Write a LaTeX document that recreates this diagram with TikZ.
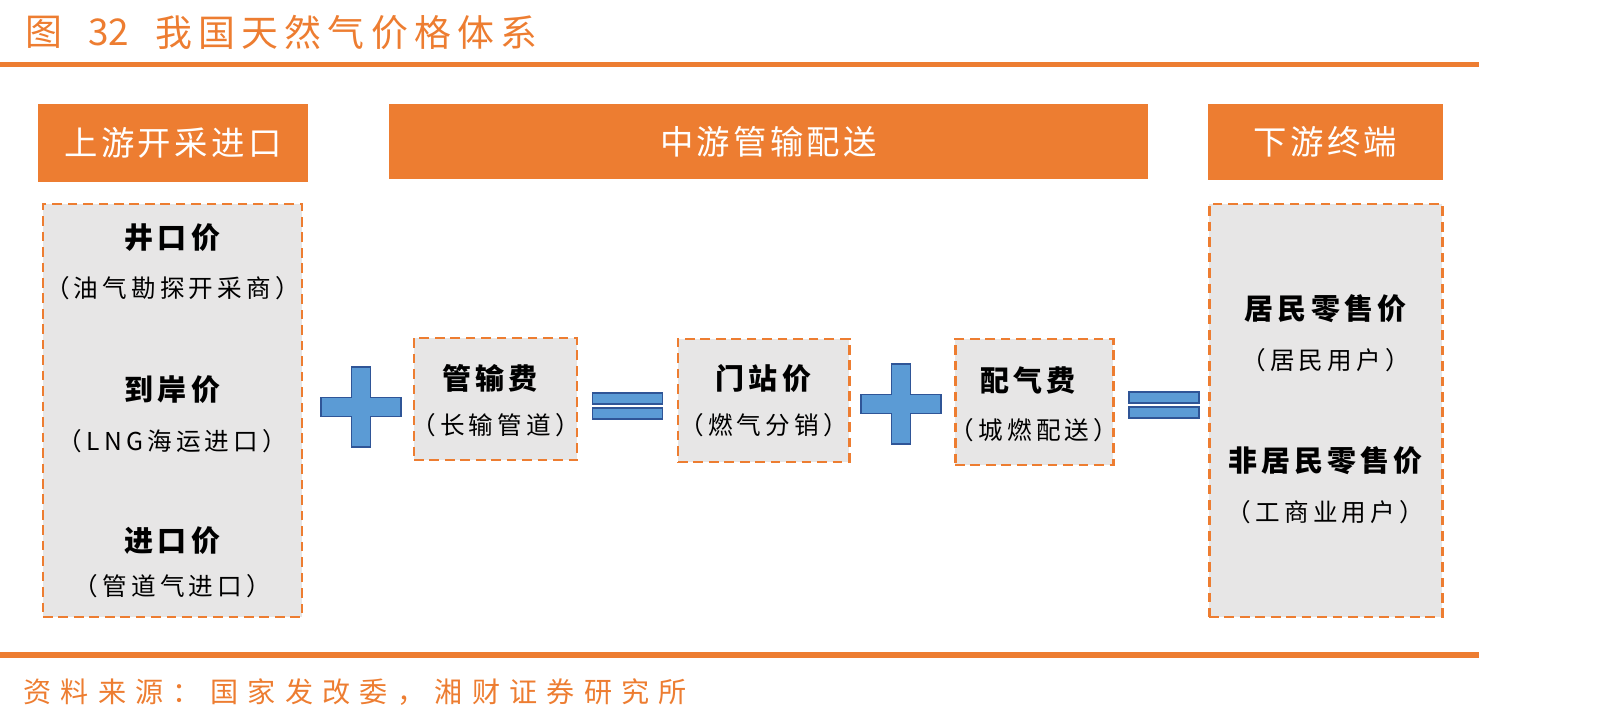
\documentclass[tikz,border=0pt]{standalone}
\usepackage{fontspec}
\setmainfont{Noto Sans CJK SC}
\newfontfamily\titlefont[LetterSpace=17]{Noto Sans CJK SC}
\newfontfamily\sourcefont[LetterSpace=33]{Noto Sans CJK SC}
\newfontfamily\headfont[LetterSpace=10]{Noto Sans CJK SC}
\newfontfamily\labelfont[LetterSpace=14]{Noto Sans CJK SC}
\newfontfamily\smallfont[LetterSpace=17]{Noto Sans CJK SC}
\usetikzlibrary{fit}
\definecolor{hdorange}{HTML}{ED7D31}
\definecolor{boxgray}{HTML}{E7E6E6}
\definecolor{signblue}{HTML}{5B9BD5}
\definecolor{signedge}{HTML}{2F5597}
\tikzset{
    headbox/.style={fill=hdorange, draw=none, inner sep=0pt},
    dashbox/.style={fill=boxgray, draw=hdorange, line width=1.7pt, dash pattern=on 5.5pt off 3.3pt, inner sep=0pt},
    titletext/.style={anchor=west, text=hdorange, inner sep=0pt, font=\titlefont\fontsize{21}{25}\selectfont},
    headtext/.style={text=white, font=\headfont\fontsize{19}{22}\selectfont},
    pricetext/.style={font=\labelfont\fontsize{16.5}{20}\selectfont\bfseries},
    subtext/.style={font=\smallfont\fontsize{14}{17}\selectfont},
    signshape/.style={fill=signblue, draw=signedge, line width=1pt},
    plussign/.pic={
            \draw[signshape] (-40,-9.5) -- (-9.5,-9.5) -- (-9.5,-40) -- (9.5,-40) -- (9.5,-9.5) -- (40,-9.5)
            -- (40,9.5) -- (9.5,9.5) -- (9.5,40) -- (-9.5,40) -- (-9.5,9.5) -- (-40,9.5) -- cycle;
        },
    equalsign/.pic={
            \draw[signshape] (-35,-13) rectangle (35,-2);
            \draw[signshape] (-35,2) rectangle (35,13);
        },
}

\begin{document}
\begin{tikzpicture}[x=0.02cm, y=-0.02cm]
        \useasboundingbox (0,0) rectangle (1624,723);
        %title and rules
        \node[titletext] (fig) at (25,32) {图};
        \node[titletext, font=\fontsize{21}{25}\selectfont] (fignum) at (88,32) {32};
        \node[titletext] (title) at (155,32) {我国天然气价格体系};
        \fill[hdorange] (0,62) rectangle (1479,67);
        \fill[hdorange] (0,652) rectangle (1479,658);
        \node[anchor=west, inner sep=0pt, text=hdorange, font=\sourcefont\fontsize{16}{19}\selectfont] (source) at (23,692) {资料来源：国家发改委，湘财证券研究所};
        %header bars
        \node[headbox, fit={(38,104) (308,182)}] (uphead) {};
        \node[headbox, fit={(389,104) (1148,179)}] (midhead) {};
        \node[headbox, fit={(1208,104) (1443,180)}] (downhead) {};
        \node[headtext] at (uphead.center) {上游开采进口};
        \node[headtext] at (midhead.center) {中游管输配送};
        \node[headtext] at (downhead.center) {下游终端};
        %dashed boxes
        \node[dashbox, fit={(43,204) (302,617)}] (upbox) {};
        \node[dashbox, fit={(414,338) (577,460)}] (pipebox) {};
        \node[dashbox, fit={(678,339) (849,462)}] (gatebox) {};
        \node[dashbox, fit={(955,339) (1113,465)}] (distbox) {};
        \node[dashbox, fit={(1209,204) (1442,617)}] (downbox) {};
        %upstream prices
        \node[pricetext] (wellhead) at (172.5,238) {井口价};
        \node[subtext] (wellsub) at (172.5,288) {（油气勘探开采商）};
        \node[pricetext] (landed) at (172.5,390) {到岸价};
        \node[subtext] (landedsub) at (172.5,441) {（LNG海运进口）};
        \node[pricetext] (import) at (172.5,541) {进口价};
        \node[subtext] (importsub) at (172.5,586) {（管道气进口）};
        %midstream prices
        \node[pricetext] (pipefee) at (490,378) {管输费};
        \node[subtext] (pipesub) at (495.5,425) {（长输管道）};
        \node[pricetext] (gate) at (763.5,378) {门站价};
        \node[subtext] (gatesub) at (763.5,425) {（燃气分销）};
        \node[pricetext] (distfee) at (1028,380) {配气费};
        \node[subtext] (distsub) at (1034,430) {（城燃配送）};
        %downstream prices
        \node[pricetext] (resident) at (1325.5,309) {居民零售价};
        \node[subtext] (residentsub) at (1325.5,360) {（居民用户）};
        \node[pricetext] (nonres) at (1325.5,461) {非居民零售价};
        \node[subtext] (nonressub) at (1325.5,512) {（工商业用户）};
        %plus and equal signs
        \pic at (361,407) {plussign};
        \pic at (627.5,406) {equalsign};
        \pic at (901,404) {plussign};
        \pic at (1164,405) {equalsign};
    \end{tikzpicture}
\end{document}
